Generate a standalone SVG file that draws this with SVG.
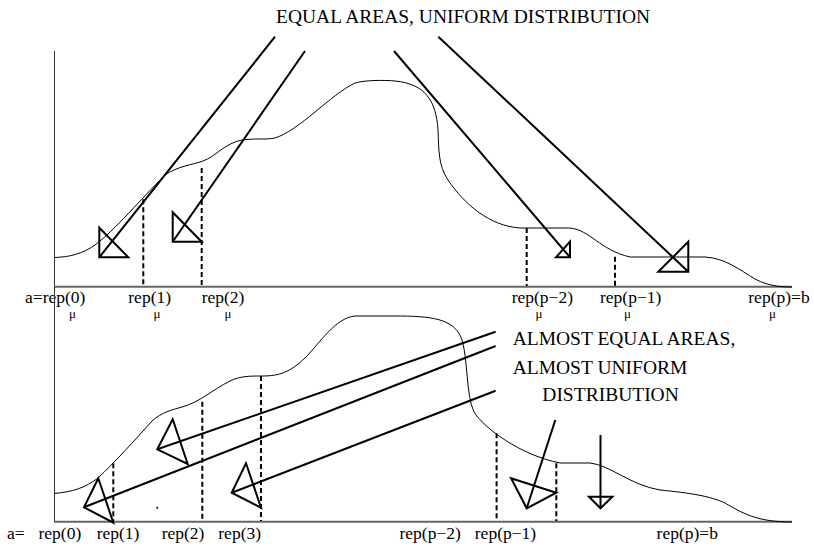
<svg xmlns="http://www.w3.org/2000/svg" width="814" height="549" viewBox="0 0 814 549">
<style>
text{font-family:"Liberation Serif","Times New Roman",serif;fill:#000}
.lbl{font-size:17.5px}
.mu{font-size:13px}
.big{font-size:19.5px}
.curve{fill:none;stroke:#000;stroke-width:1}
.thick{fill:none;stroke:#000;stroke-width:2;stroke-linecap:butt}
.tri{fill:none;stroke:#000;stroke-width:2;stroke-linejoin:miter}
.dash{stroke:#000;stroke-width:2;stroke-dasharray:5,3;fill:none}
.yaxis{stroke:#333;stroke-width:1}
.xaxis{stroke:#666;stroke-width:2}
</style>
<rect width="814" height="549" fill="#fff"/>

<g id="title"><text class="big" x="276" y="22.7">EQUAL AREAS, UNIFORM DISTRIBUTION</text></g>

<g id="top-axes">
<line class="yaxis" x1="54.5" y1="51" x2="54.5" y2="286.7"/>
<line class="xaxis" x1="54" y1="286.7" x2="792" y2="286.7"/>
</g>
<g id="top-density">
<path class="curve" d="M54,257.5 C70,257 82,254 95,245 C115,230 140,200 165,175 C178,166 192,165 203,161 C215,157 225,143 242,140 C255,138 265,140 275,138 C300,130 330,95 355,83 C365,80 385,80 395,81 C425,84 436,100 438,130 C439,150 438,165 448,180 C465,205 490,226 520,228 L570,228 C590,230 600,250 630,257 L705,257 C725,258 740,270 755,279 C770,287 785,287 792,287"/>
</g>
<g id="top-reps">
<line class="dash" x1="143.3" y1="199.3" x2="143.3" y2="286"/>
<line class="dash" x1="201.7" y1="168" x2="201.7" y2="286"/>
<line class="dash" x1="526.7" y1="228" x2="526.7" y2="286"/>
<line class="dash" x1="615" y1="256.7" x2="615" y2="286"/>
</g>
<g id="top-labels">
<text class="lbl" x="25" y="302.7">a=rep(0)</text>
<text class="lbl" x="128.3" y="302.7">rep(1)</text>
<text class="lbl" x="201.7" y="302.7">rep(2)</text>
<text class="lbl" x="511.7" y="302.7">rep(p−2)</text>
<text class="lbl" x="600" y="302.7">rep(p−1)</text>
<text class="lbl" x="748.3" y="302.7">rep(p)=b</text>
<text class="mu" x="72.5" y="318" text-anchor="middle">μ</text>
<text class="mu" x="157" y="318" text-anchor="middle">μ</text>
<text class="mu" x="228" y="318" text-anchor="middle">μ</text>
<text class="mu" x="539" y="318" text-anchor="middle">μ</text>
<text class="mu" x="627.5" y="318" text-anchor="middle">μ</text>
<text class="mu" x="772.5" y="318" text-anchor="middle">μ</text>
</g>
<g id="top-pointers">
<g id="tp1"><polygon class="tri" points="99.3,227.7 99.3,257.3 128.3,257.3"/><line class="thick" x1="99.3" y1="257.3" x2="275" y2="36.7"/></g>
<g id="tp2"><polygon class="tri" points="172.7,212.3 172.7,241.7 201.7,241.7"/><line class="thick" x1="172.7" y1="241.7" x2="305" y2="51"/></g>
<g id="tp3"><polygon class="tri" points="570,241.7 570,257.3 556,257.3"/><line class="thick" x1="394" y1="51" x2="570" y2="257.3"/></g>
<g id="tp4"><polygon class="tri" points="688.3,241.7 688.3,271.7 658.3,271.7"/><line class="thick" x1="438.3" y1="36.7" x2="688.3" y2="271.7"/></g>
</g>

<g id="bottom-axes">
<line class="yaxis" x1="54.5" y1="286.7" x2="54.5" y2="521.7"/>
<line class="xaxis" x1="54" y1="521.7" x2="792" y2="521.7"/>
</g>
<g id="bottom-density">
<path class="curve" d="M54,493.5 C72,492 85,488 98,478 C115,462 135,440 152,421 C162,412 172,410 182,407 C200,402 212,390 230,381 C240,376 250,376 262,376 C280,376 290,372 305,358 C320,343 335,318 355,316 L395,316 C430,316 455,318 462,340 C468,360 466,395 474,412 C484,428 520,455 560,463 L590,463 C610,465 630,485 660,490 C690,493 710,496 725,503 C745,515 760,522 792,522"/>
</g>
<g id="bottom-reps">
<line class="dash" x1="113.3" y1="463.3" x2="113.3" y2="521"/>
<line class="dash" x1="202.3" y1="401.7" x2="202.3" y2="521"/>
<line class="dash" x1="261" y1="376" x2="261" y2="521"/>
<line class="dash" x1="496.6" y1="433.3" x2="496.6" y2="521"/>
<line class="dash" x1="556.3" y1="463.3" x2="556.3" y2="521"/>
</g>
<g id="bottom-labels">
<text class="lbl" x="7" y="538.5">a=</text>
<text class="lbl" x="38.5" y="538.5">rep(0)</text>
<text class="lbl" x="96.7" y="538.5">rep(1)</text>
<text class="lbl" x="161.7" y="538.5">rep(2)</text>
<text class="lbl" x="218.3" y="538.5">rep(3)</text>
<text class="lbl" x="399.5" y="538.5">rep(p−2)</text>
<text class="lbl" x="474.8" y="538.5">rep(p−1)</text>
<text class="lbl" x="656.6" y="538.5">rep(p)=b</text>
</g>
<g id="bottom-caption">
<text class="big" x="512.7" y="345">ALMOST EQUAL AREAS,</text>
<text class="big" x="512.7" y="374">ALMOST UNIFORM</text>
<text class="big" x="542.3" y="400.7">DISTRIBUTION</text>
</g>
<g id="bottom-pointers">
<g id="bp1"><polygon class="tri" points="98.3,478.3 84,507.3 113.3,522.7"/><line class="thick" x1="84" y1="507.3" x2="495.6" y2="346"/></g>
<g id="bp2"><polygon class="tri" points="172.7,419.3 157.3,449.3 187.7,464"/><line class="thick" x1="157.3" y1="449.3" x2="495.6" y2="331.7"/></g>
<g id="bp3"><polygon class="tri" points="246,463.3 231.7,492.7 261,507.7"/><line class="thick" x1="231.7" y1="492.7" x2="495.6" y2="390.7"/></g>
<g id="bp4"><polygon class="tri" points="511.1,478.3 526.7,508.3 556.3,492.7"/><line class="thick" x1="555.3" y1="420" x2="526.7" y2="508.3"/></g>
<g id="bp5"><polygon class="tri" points="589,496.7 612.4,496.7 600.5,508.3"/><line class="thick" x1="600.5" y1="435" x2="600.5" y2="508.3"/></g>
<circle id="dot" cx="157.3" cy="507.7" r="1" fill="#000"/>
</g>
</svg>
